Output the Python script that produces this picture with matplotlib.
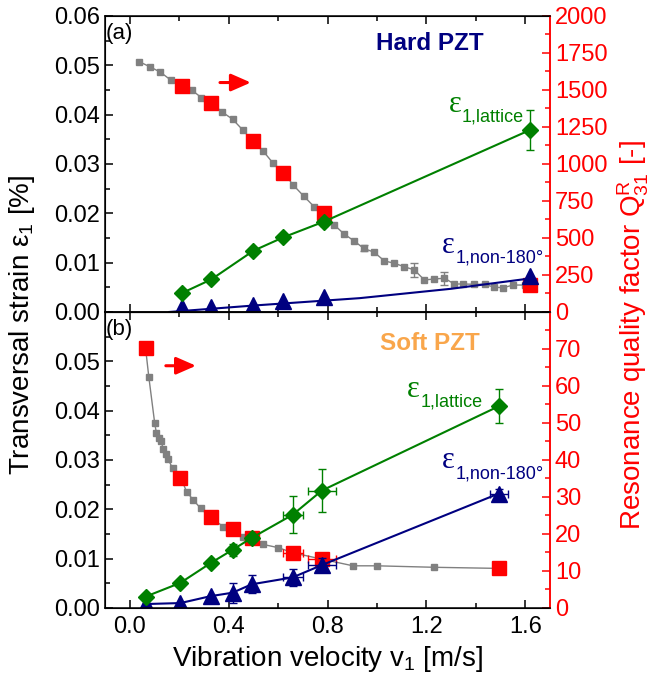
import matplotlib
matplotlib.use("Agg")
import matplotlib.pyplot as plt
from matplotlib.ticker import MultipleLocator

plt.rcParams['font.family'] = ['Liberation Sans', 'DejaVu Sans']
plt.rcParams['mathtext.fontset'] = 'custom'
plt.rcParams['mathtext.rm'] = 'Liberation Sans'
plt.rcParams['mathtext.it'] = 'Liberation Sans:italic'

# --- (a) hard PZT ---
hard_q_v = [0.038, 0.081, 0.124, 0.165, 0.207, 0.25, 0.29, 0.331, 0.374, 0.416, 0.457, 0.497, 0.538,
            0.578, 0.622, 0.662, 0.703, 0.746, 0.784, 0.827, 0.867, 0.909, 0.946, 0.989, 1.03, 1.07,
            1.11, 1.151, 1.192, 1.232, 1.273, 1.313, 1.347, 1.392, 1.435, 1.475, 1.511, 1.551, 1.597]
hard_q = [1691, 1657, 1620, 1568, 1527, 1500, 1448, 1410, 1351, 1302, 1230, 1155, 1090,
          1009, 941, 856, 784, 711, 667, 588, 527, 478, 430, 403, 345, 329,
          306, 284, 216, 223, 228, 189, 189, 187, 187, 167, 164, 182, 182]
hard_qerr_v = [0.946, 1.151, 1.273]
hard_qerr_q = [430, 284, 228]
hard_qerr = [20, 45, 45]

hard_v = [0.21, 0.33, 0.50, 0.62, 0.785, 1.62]
hard_qr = [1527, 1410, 1155, 941, 667, 182]
hard_lat = [0.0038, 0.0066, 0.0124, 0.0151, 0.0183, 0.0369]
hard_lat_err = [0, 0, 0, 0, 0.0008, 0.0040]
hard_dom = [0.00095, 0.0011, 0.0015, 0.0022, 0.0030, 0.0072]
hard_dom_fit_v = [0.16, 0.5, 0.93, 1.3, 1.62]
hard_dom_fit = [0.0, 0.0013, 0.0028, 0.0047, 0.0068]

# --- (b) soft PZT ---
soft_q_v = [0.064, 0.077, 0.101, 0.108, 0.119, 0.128, 0.135, 0.146, 0.155, 0.173, 0.205, 0.230,
            0.257, 0.287, 0.327, 0.378, 0.416, 0.459, 0.493, 0.538, 0.601, 0.659, 0.777, 0.903,
            1.0, 1.232, 1.493]
soft_q = [70.2, 62.5, 49.9, 47.2, 45.9, 45.0, 42.9, 41.6, 40.2, 37.8, 35.5, 31.4,
          29.2, 26.9, 24.5, 22.0, 21.3, 19.1, 18.6, 17.2, 16.3, 14.95, 13.2, 11.4,
          11.4, 11.0, 10.7]

soft_v = [0.064, 0.205, 0.327, 0.416, 0.493, 0.659, 0.777, 1.493]
soft_v_err = [0, 0, 0, 0, 0, 0.04, 0.056, 0]
soft_qr = [70.2, 35.0, 24.5, 21.3, 18.8, 14.95, 13.2, 10.7]
soft_lat = [0.0023, 0.0051, 0.0091, 0.0118, 0.0142, 0.0189, 0.0238, 0.0409]
soft_lat_err = [0, 0, 0, 0.0012, 0, 0.0037, 0.0043, 0.0035]
soft_dom = [0.0008, 0.0010, 0.0024, 0.0031, 0.0048, 0.0062, 0.0087, 0.0232]
soft_dom_err = [0, 0, 0, 0.0020, 0.0018, 0.0018, 0.0015, 0.0010]
soft_dom_verr = [0, 0, 0, 0, 0, 0.04, 0.056, 0.037]

RED = '#FF0000'
GREEN = '#008000'
NAVY = '#000080'
GRAY = '#808080'

fig = plt.figure(figsize=(6.54, 6.81), dpi=100)
ax_a = fig.add_axes([0.1606, 0.5419, 0.6804, 0.4347])
ax_b = fig.add_axes([0.1606, 0.1072, 0.6804, 0.4347])


def style(ax, ax2, qmax, qmajor, panel):
    ax.set_zorder(2)
    ax2.set_zorder(1)
    ax.patch.set_visible(False)
    ax.set_xlim(-0.1, 1.7)
    ax.set_ylim(0, 0.06)
    ax2.set_ylim(0, qmax)
    ax.xaxis.set_major_locator(MultipleLocator(0.4))
    ax.xaxis.set_minor_locator(MultipleLocator(0.2))
    ax.yaxis.set_major_locator(MultipleLocator(0.01))
    ax.yaxis.set_minor_locator(MultipleLocator(0.005))
    ax2.yaxis.set_major_locator(MultipleLocator(qmajor))
    ax2.yaxis.set_minor_locator(MultipleLocator(qmajor / 2))
    ax.tick_params(axis='x', which='both', direction='in', top=True, labelsize=17, pad=6)
    ax.tick_params(axis='y', which='both', direction='in', right=False, labelsize=17)
    ax.tick_params(which='major', length=6, width=1.1)
    ax.tick_params(which='minor', length=3.5, width=1.1)
    ax2.tick_params(axis='y', which='both', direction='in', colors=RED, labelsize=17)
    ax2.tick_params(which='major', length=6, width=1.1)
    ax2.tick_params(which='minor', length=3.5, width=1.1)
    for sp in ax.spines.values():
        sp.set_linewidth(1.1)
    ax.spines['right'].set_color(RED)
    ax2.spines['right'].set_color(RED)
    ax2.spines['right'].set_linewidth(1.1)
    ax.yaxis.set_major_formatter(plt.FuncFormatter(lambda y, p: '%.2f' % y))
    ax.text(0.002, 0.942, panel, transform=ax.transAxes, fontsize=16, va='center', ha='left')


def eps_label(ax, x, y, sub, color):
    ax.text(x, y, 'ε', fontsize=22, color=color, ha='left', va='baseline',
            family=['Liberation Serif', 'DejaVu Serif'])
    ax.annotate(sub, xy=(x, y), xytext=(9.8, -7), textcoords='offset points',
                fontsize=13, color=color, ha='left', va='baseline')


# panel (a)
ax2_a = ax_a.twinx()
style(ax_a, ax2_a, 2000, 250, '(a)')
ax_a.tick_params(labelbottom=False)
ax2_a.errorbar(hard_qerr_v, hard_qerr_q, yerr=hard_qerr, fmt='none', ecolor=GRAY, elinewidth=1, capsize=3)
ax2_a.plot(hard_q_v, hard_q, 's-', color=GRAY, ms=3.8, lw=1.0)
ax2_a.plot(hard_v, hard_qr, 's', color=RED, ms=10)
ax_a.plot(hard_dom_fit_v, hard_dom_fit, '-', color=NAVY, lw=1.5)
ax_a.plot(hard_v, hard_dom, '^', color=NAVY, ms=11)
ax_a.errorbar(hard_v, hard_lat, yerr=hard_lat_err, fmt='D-', color=GREEN, ms=8.5, lw=1.5,
              elinewidth=1, capsize=3)
ax_a.annotate('', xy=(0.49, 0.0465), xytext=(0.365, 0.0465),
              arrowprops=dict(arrowstyle='-|>,head_length=0.8,head_width=0.35', color=RED, lw=2.2,
                              shrinkA=0, shrinkB=0, mutation_scale=15))
ax_a.text(1.212, 0.0545, 'Hard PZT', color=NAVY, fontsize=17.5, fontweight='bold', ha='center', va='center')
eps_label(ax_a, 1.289, 0.0405, '1,lattice', GREEN)
eps_label(ax_a, 1.263, 0.0120, '1,non-180°', NAVY)

# panel (b)
ax2_b = ax_b.twinx()
style(ax_b, ax2_b, 80, 10, '(b)')
ax_b.set_yticks([0, 0.01, 0.02, 0.03, 0.04, 0.05, 0.06],
                ['0.00', '0.01', '0.02', '0.03', '0.04', '0.05', ''])
ax2_b.set_yticks(range(0, 90, 10), ['0', '10', '20', '30', '40', '50', '60', '70', ''])
ax2_b.plot(soft_q_v, soft_q, 's-', color=GRAY, ms=3.8, lw=1.0)
ax2_b.errorbar(soft_v, soft_qr, xerr=soft_v_err, fmt='s', color=RED, ms=10, elinewidth=1, capsize=3)
ax_b.errorbar(soft_v, soft_dom, yerr=soft_dom_err, xerr=soft_dom_verr, fmt='^-', color=NAVY, ms=11,
              lw=1.5, elinewidth=1, capsize=3)
ax_b.errorbar(soft_v, soft_lat, yerr=soft_lat_err, xerr=soft_v_err, fmt='D-', color=GREEN, ms=8.5,
              lw=1.5, elinewidth=1, capsize=3)
ax_b.annotate('', xy=(0.268, 0.0491), xytext=(0.146, 0.0491),
              arrowprops=dict(arrowstyle='-|>,head_length=0.8,head_width=0.35', color=RED, lw=2.2,
                              shrinkA=0, shrinkB=0, mutation_scale=15))
ax_b.text(1.216, 0.0537, 'Soft PZT', color='#F9A64B', fontsize=17.5, fontweight='bold', ha='center', va='center')
eps_label(ax_b, 1.122, 0.0428, '1,lattice', GREEN)
eps_label(ax_b, 1.263, 0.0283, '1,non-180°', NAVY)

ax_b.set_xlabel('Vibration velocity v$_1$ [m/s]', fontsize=20, labelpad=4)
fig.text(22 / 654, 1 - 325 / 681, 'Transversal strain ε$_1$ [%]', rotation=90, fontsize=20,
         ha='center', va='center')
fig.text(633 / 654, 1 - 335 / 681, 'Resonance quality factor Q$^{\\mathregular{R}}_{\\mathregular{31}}$ [-]',
         rotation=90, fontsize=20, color=RED, ha='center', va='center')

fig.savefig('out.png', dpi=100)
